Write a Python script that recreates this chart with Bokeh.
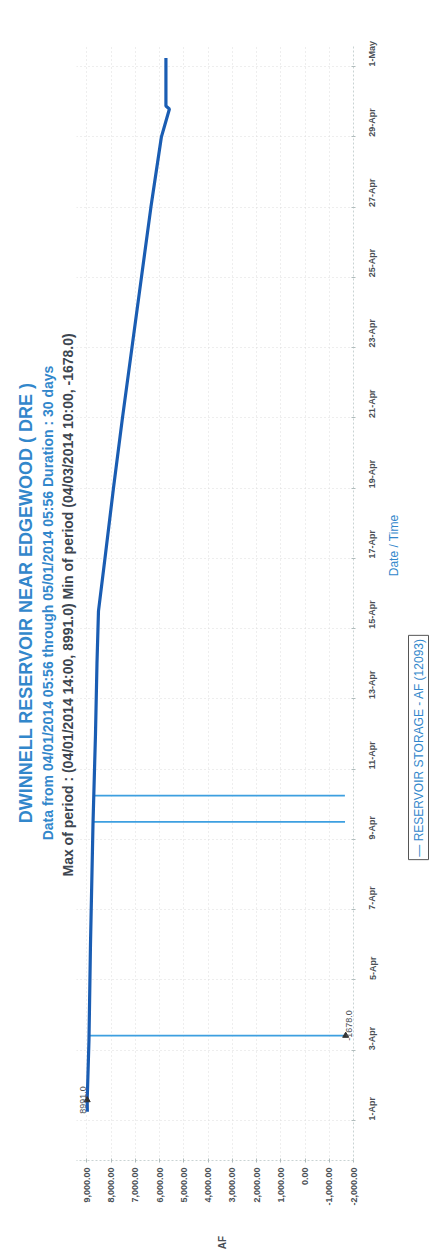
import math
import pandas as pd
from bokeh.plotting import figure
from bokeh.layouts import row, column
from bokeh.models import Range1d, FixedTicker, NumeralTickFormatter, Label, Title
from bokeh.embed import file_html
from bokeh.resources import INLINE

# ---------------- data ----------------
times = ["2014-04-01 05:56", "2014-04-01 14:00", "2014-04-03 07:00", "2014-04-06 00:00",
         "2014-04-09 10:00", "2014-04-12 00:00", "2014-04-14 00:00", "2014-04-15 12:00",
         "2014-04-17 00:00", "2014-04-19 00:00", "2014-04-21 00:00", "2014-04-23 00:00",
         "2014-04-25 00:00", "2014-04-27 00:00", "2014-04-29 00:00", "2014-04-29 19:00",
         "2014-04-29 21:00", "2014-05-01 05:56"]
storage = [8985, 8991, 8918, 8856, 8753, 8649, 8588, 8526, 8258, 7907, 7536, 7144,
           6753, 6361, 5928, 5598, 5742, 5742]

spike_times = ["2014-04-03 10:00", "2014-04-09 12:00", "2014-04-10 06:00"]
spike_base = [8912, 8750, 8725]
spike_values = [-1678, -1650, -1645]

max_time, max_value = "2014-04-01 14:00", 8991.0
min_time, min_value = "2014-04-03 10:00", -1678.0

value_ticks = [9000, 8000, 7000, 6000, 5000, 4000, 3000, 2000, 1000, 0, -1000, -2000]
date_ticks = ["2014-04-01", "2014-04-03", "2014-04-05", "2014-04-07", "2014-04-09",
              "2014-04-11", "2014-04-13", "2014-04-15", "2014-04-17", "2014-04-19",
              "2014-04-21", "2014-04-23", "2014-04-25", "2014-04-27", "2014-04-29",
              "2014-05-01"]
date_labels = ["1-Apr", "3-Apr", "5-Apr", "7-Apr", "9-Apr", "11-Apr", "13-Apr", "15-Apr",
               "17-Apr", "19-Apr", "21-Apr", "23-Apr", "25-Apr", "27-Apr", "29-Apr", "1-May"]

title1 = "DWINNELL RESERVOIR NEAR EDGEWOOD ( DRE )"
title2 = "Data from 04/01/2014 05:56 through 05/01/2014 05:56 Duration : 30 days"
title3 = "Max of period : (04/01/2014 14:00, 8991.0)  Min of period (04/03/2014 10:00, -1678.0)"
x_title = "Date / Time"
y_title = "AF"
legend_text = "— RESERVOIR STORAGE - AF (12093)"

# ---------------- styles ----------------
BLUE = "#3287cb"
LINE = "#1a5db3"
GRAY = "#4a4f55"
FONT = "Liberation Sans"

t = pd.to_datetime(times)
st = pd.to_datetime(spike_times)

p = figure(frame_width=277, frame_height=1115,
           min_border_left=76, min_border_right=31, min_border_top=45, min_border_bottom=55,
           x_range=Range1d(9433, -2000),
           y_range=Range1d(pd.Timestamp("2014-03-30 20:40"), pd.Timestamp("2014-05-01 14:24")),
           y_axis_type="datetime", y_axis_location="right",
           output_backend="svg", toolbar_location=None, title=None)
p.outline_line_color = None

p.xaxis.ticker = FixedTicker(ticks=value_ticks)
p.xaxis.formatter = NumeralTickFormatter(format="0,0.00")
p.xaxis.major_label_orientation = math.pi / 2
p.xaxis.major_label_standoff = 5
tick_ms = [int(v) for v in (pd.to_datetime(date_ticks).astype("int64") // 10**6)]
p.yaxis.ticker = FixedTicker(ticks=tick_ms)
p.yaxis.major_label_overrides = {ms: lab for ms, lab in zip(tick_ms, date_labels)}
p.yaxis.major_label_orientation = math.pi / 2
p.yaxis.major_label_standoff = 17

for ax in (p.xaxis, p.yaxis):
    ax.major_label_text_font = FONT
    ax.major_label_text_font_style = "bold"
    ax.major_label_text_font_size = "9px"
    ax.major_label_text_color = GRAY
    ax.axis_line_color = "#c9d3d3"
    ax.axis_line_dash = "2 2"
    ax.major_tick_line_color = "#b0bcbc"
    ax.major_tick_in = 2
    ax.major_tick_out = 2
    ax.minor_tick_line_color = None

for g in (p.xgrid, p.ygrid):
    g.grid_line_color = "#dcdcdc"
    g.grid_line_dash = "1 3"
    g.grid_line_width = 1

p.segment(x0=spike_base, y0=st, x1=spike_values, y1=st, line_color="#3d9fe0", line_width=1.8)
p.line(x=storage, y=t, line_color=LINE, line_width=3.2)
p.scatter(x=[max_value, min_value], y=pd.to_datetime([max_time, min_time]),
          marker="triangle", size=6, color="#333333")

p.add_layout(Label(x=max_value, y=pd.Timestamp(max_time), text="8991.0", angle=math.pi / 2,
                   text_align="center", text_baseline="bottom", x_offset=-1,
                   text_font=FONT, text_font_size="9px", text_color=GRAY))
p.add_layout(Label(x=min_value, y=pd.Timestamp(min_time), text="-1678.0", angle=math.pi / 2,
                   text_align="center", text_baseline="top", x_offset=0, y_offset=10,
                   text_font=FONT, text_font_size="9px", text_color=GRAY))

p.add_layout(Title(text=title3, align="center", text_font=FONT, text_font_size="14px",
                   text_font_style="bold", text_color="#3d4650", standoff=2), "left")
p.add_layout(Title(text=title2, align="center", text_font=FONT, text_font_size="14px",
                   text_font_style="bold", text_color=BLUE, standoff=2), "left")
p.add_layout(Title(text=title1, align="center", text_font=FONT, text_font_size="18px",
                   text_font_style="bold", text_color=BLUE, standoff=2), "left")


def blank(w, h):
    f = figure(width=w, height=h, x_range=Range1d(0, w), y_range=Range1d(0, h),
               min_border=0, x_axis_location=None, y_axis_location=None,
               output_backend="svg", toolbar_location=None, title=None)
    f.outline_line_color = None
    f.xgrid.visible = False
    f.ygrid.visible = False
    return f


# strip below the plot: value axis title
p_af = blank(384, 41)
p_af.add_layout(Label(x=203, y=14, text=y_title, angle=math.pi / 2,
                      text_align="center", text_baseline="middle",
                      text_font=FONT, text_font_size="10px", text_font_style="bold",
                      text_color=GRAY))

# strip right of the plot: date axis title and legend
p_r = blank(51, 1256)
p_r.add_layout(Label(x=8, y=711, text=x_title, angle=math.pi / 2,
                     text_align="center", text_baseline="middle",
                     text_font=FONT, text_font_size="12px", text_color=BLUE))
p_r.add_layout(Label(x=33, y=509, text=legend_text, angle=math.pi / 2,
                     text_align="center", text_baseline="middle",
                     text_font=FONT, text_font_size="12px", text_color=BLUE,
                     border_line_color="#555555", border_line_width=1,
                     background_fill_color="white", padding=3))

layout = row(column(p, p_af), p_r)
open("out.html", "w").write(file_html(layout, INLINE))
